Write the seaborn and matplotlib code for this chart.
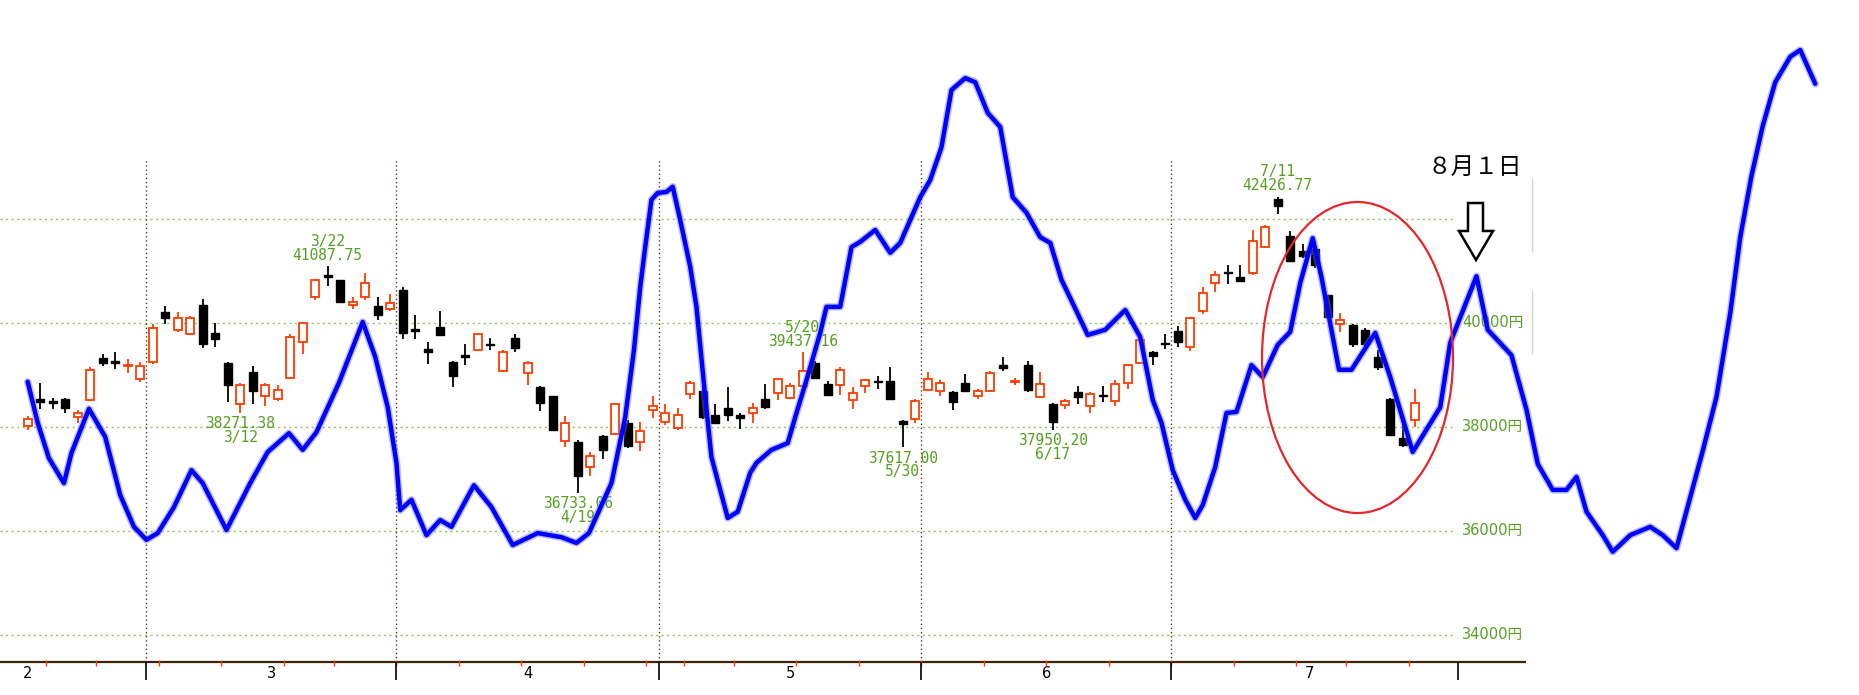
import numpy as np
import pandas as pd
import matplotlib
matplotlib.use('Agg')
import matplotlib.pyplot as plt
from matplotlib.patches import Ellipse, Polygon
import seaborn as sns

# ---------------- data ----------------
feb_days = [15, 16, 19, 20, 21, 22, 26, 27, 28, 29]
mar_days = [1, 4, 5, 6, 7, 8, 11, 12, 13, 14, 15, 18, 19, 21, 22, 25, 26, 27, 28, 29]
apr_days = [1, 2, 3, 4, 5, 8, 9, 10, 11, 12, 15, 16, 17, 18, 19, 22, 23, 24, 25, 26, 30]
may_days = [1, 2, 7, 8, 9, 10, 13, 14, 15, 16, 17, 20, 21, 22, 23, 24, 27, 28, 29, 30, 31]
jun_days = [3, 4, 5, 6, 7, 10, 11, 12, 13, 14, 17, 18, 19, 20, 21, 24, 25, 26, 27, 28]
jul_days = [1, 2, 3, 4, 5, 8, 9, 10, 11, 12, 16, 17, 18, 19, 22, 23, 24, 25, 26, 29]

opens = [38010, 38530, 38480, 38530, 38190, 38510, 39330, 39270, 39170, 38930,
         39250, 40210, 39860, 39790, 40340, 39810, 39230, 38450, 39060, 38590,
         38540, 38950, 39630, 40500, 40930, 40820, 40340, 40500, 40320, 40260,
         40640, 39890, 39500, 39920, 39250, 39380, 39490, 39590, 39080, 39720,
         39040, 38770, 38590, 37730, 37720, 37240, 37820, 37870, 38080, 37710, 38320,
         38100, 37990, 38630, 38700, 38240, 38370, 38240, 38270, 38540, 38650,
         38550, 38790, 39230, 38830, 38810, 38520, 38780, 38870, 38890, 38120, 38160,
         38720, 38700, 38680, 38850, 38600, 38700, 39190, 38870, 39190, 38570,
         38450, 38420, 38680, 38400, 38620, 38500, 38850, 39240, 39450, 39610,
         39850, 39540, 40240, 40770, 40980, 40890, 40960, 41460, 42390, 41680,
         41380, 41420, 40540, 39980, 39960, 39860, 39340, 38530, 37780, 38140]
highs = [38210, 38850, 38560, 38560, 38330, 39160, 39400, 39440, 39300, 39250,
         39990, 40320, 40220, 40130, 40470, 40000, 39250, 38850, 39170, 38850,
         38800, 39780, 40010, 40850, 41087.75, 40830, 40500, 40970, 40500, 40550,
         40700, 40150, 39640, 40240, 39270, 39600, 39800, 39720, 39490, 39780,
         39260, 38780, 38600, 38220, 37750, 37520, 37840, 38460, 38130, 38100, 38590,
         38440, 38370, 38890, 38760, 38440, 38760, 38270, 38460, 38830, 38950,
         38840, 39437.16, 39260, 38890, 39150, 38760, 38920, 38980, 39150, 38130, 38530,
         39050, 38900, 38700, 39020, 38740, 39080, 39340, 38950, 39260, 39050,
         38470, 38530, 38790, 38680, 38790, 38900, 39210, 39790, 39460, 39790,
         39940, 40120, 40700, 40990, 41120, 41120, 41780, 41890, 42426.77, 41760,
         41520, 41570, 40540, 40200, 39990, 39900, 39480, 38550, 38100, 38740]
lows = [37940, 38350, 38350, 38260, 38080, 38500, 39170, 39120, 39040, 38870,
        39220, 39990, 39830, 39760, 39510, 39540, 38480, 38271.38, 38440, 38400,
        38500, 38930, 39410, 40440, 40710, 40400, 40260, 40440, 40050, 40240,
        39700, 39700, 39220, 39760, 38770, 39190, 39470, 39490, 39060, 39440,
        38800, 38310, 37930, 37620, 36733.06, 37050, 37390, 37840, 37600, 37540, 38180,
        38030, 37950, 38530, 38160, 38050, 38120, 37970, 38080, 38340, 38520,
        38530, 38760, 38930, 38590, 38610, 38350, 38660, 38740, 38520, 37617.00, 38080,
        38710, 38590, 38320, 38680, 38530, 38680, 39080, 38810, 38680, 38550,
        37950.20, 38340, 38450, 38260, 38480, 38400, 38740, 39230, 39190, 39500,
        39540, 39460, 40170, 40600, 40750, 40790, 40930, 41440, 42100, 41190,
        41250, 41050, 40090, 39830, 39530, 39560, 39090, 37820, 37610, 38000]
closes = [38150, 38490, 38470, 38360, 38270, 39100, 39230, 39240, 39200, 39170,
          39910, 40100, 40090, 40090, 39600, 39690, 38800, 38800, 38690, 38810,
          38710, 39740, 40000, 40820, 40890, 40410, 40400, 40760, 40150, 40380,
          39800, 39840, 39450, 39770, 38980, 39350, 39780, 39580, 39440, 39520,
          39230, 38470, 37950, 38080, 37060, 37440, 37550, 38450, 37630, 37930, 38400,
          38270, 38230, 38840, 38200, 38070, 38230, 38180, 38370, 38390, 38920,
          38790, 39070, 38950, 38620, 39100, 38650, 38900, 38860, 38530, 38060, 38500,
          38930, 38840, 38490, 38700, 38690, 39040, 39140, 38890, 38720, 38820,
          38100, 38500, 38580, 38640, 38600, 38820, 39190, 39680, 39370, 39590,
          39630, 40090, 40570, 40920, 40960, 40800, 41580, 41850, 42240, 41200,
          41290, 41120, 40120, 40060, 39600, 39600, 39160, 37840, 37650, 38460]

# cycle line (x in trading-day positions, y in yen)
cycle_x = [0.0, 0.8, 1.7, 2.9, 3.5, 4.9, 6.2, 7.4, 8.5, 9.5,
           10.4, 11.7, 13.1, 14.0, 15.9, 17.8, 19.2, 20.9, 22.0, 23.1,
           24.9, 26.8, 27.8, 28.8, 29.5, 29.8, 30.7, 31.9, 33.0, 33.9,
           35.7, 37.1, 38.8, 40.8, 42.7, 43.9, 44.9, 46.7, 47.8, 48.5,
           49.0, 49.4, 49.9, 50.4, 51.1, 51.6, 52.2, 53.0, 53.5, 54.2,
           54.7, 55.4, 56.0, 56.8, 57.8, 58.3, 59.5, 60.8, 61.5, 62.3,
           63.4, 63.9, 65.0, 65.9, 66.6, 67.8, 69.0, 69.8, 71.4, 72.2,
           73.1, 73.9, 75.0, 75.8, 76.8, 77.8, 78.8, 79.9, 81.0, 81.8,
           82.7, 83.6, 84.8, 86.2, 87.8, 89.0, 90.0, 90.7, 91.6, 92.6,
           93.4, 94.0, 95.0, 95.9, 96.7, 97.9, 98.8, 100.0, 101.0, 101.8,
           102.8, 103.5, 104.9, 105.9, 107.8, 109.0, 110.8, 113.0, 113.8, 115.9,
           116.8, 118.7, 119.9, 120.8, 122.0, 123.1, 123.9, 124.7, 126.0, 126.8,
           128.2, 129.8, 130.8, 131.9, 133.0, 134.0, 135.1, 136.2, 137.0, 137.9,
           138.8, 139.8, 141.0, 141.8, 143.0]
cycle_y = [38870, 38080, 37400, 36920, 37500, 38350, 37810, 36690, 36080, 35830,
           35960, 36460, 37170, 36920, 36020, 36920, 37520, 37880, 37560, 37900,
           38850, 40020, 39350, 38380, 37310, 36400, 36600, 35920, 36210, 36080,
           36880, 36460, 35730, 35960, 35880, 35770, 35960, 36920, 38190, 39480,
           40690, 41460, 42370, 42500, 42520, 42620, 41980, 41080, 40310, 38580,
           37420, 36790, 36250, 36370, 37120, 37310, 37560, 37690, 38270, 38900,
           39810, 40310, 40310, 41460, 41560, 41790, 41350, 41540, 42420, 42750,
           43380, 44480, 44710, 44630, 44040, 43770, 42420, 42120, 41650, 41540,
           40830, 40380, 39770, 39870, 40250, 39730, 38520, 38080, 37170, 36600,
           36250, 36500, 37230, 38270, 38290, 39190, 38960, 39580, 39830, 40770,
           41630, 40880, 39100, 39100, 39810, 38960, 37520, 38380, 39620, 40900,
           39870, 39380, 38330, 37290, 36790, 36790, 37040, 36370, 35920, 35600,
           35920, 36080, 35920, 35670, 36650, 37540, 38580, 40190, 41650, 42830,
           43790, 44630, 45120, 45250, 44600]

grid_levels = [34000, 36000, 38000, 40000, 42000]
label_levels = [34000, 36000, 38000, 40000]
month_numbers = [2, 3, 4, 5, 6, 7]
month_trading_days = [19, 20, 21, 21, 20, 22]
high_marks = ['2024-03-22', '2024-05-20', '2024-07-11']
low_marks = ['2024-03-12', '2024-04-19', '2024-05-30', '2024-06-17']
note_text = '８月１日'

# ---------------- layout ----------------
W, H = 1859, 695
XL, XR = -2.216, 146.5
YTOP, YBOT = 46211, 32846


def X(px):
    return XL + px / W * (XR - XL)


def Y(py):
    return YTOP - py / H * (YTOP - YBOT)


sns.set_theme(style='white')
plt.rcParams['font.family'] = ['DejaVu Sans', 'Noto Sans CJK JP']

fig = plt.figure(figsize=(W / 100, H / 100), dpi=100, facecolor='white')
ax = fig.add_axes([0, 0, 1, 1])
ax.set_xlim(XL, XR)
ax.set_ylim(YBOT, YTOP)
ax.axis('off')

month_lists = [(2, feb_days), (3, mar_days), (4, apr_days), (5, may_days), (6, jun_days), (7, jul_days)]
dates = pd.to_datetime([f'2024-{m:02d}-{d:02d}' for m, ds in month_lists for d in ds])
df = pd.DataFrame({'date': dates, 'pos': np.arange(len(dates)), 'open': opens,
                   'high': highs, 'low': lows, 'close': closes})

GREEN_TXT = '#55a022'
GRID_GREEN = '#8ec65c'
RED = '#ff3c00'

# horizontal dotted grid
for lvl in grid_levels:
    ax.plot([XL, X(1455)], [lvl, lvl], color=GRID_GREEN, lw=1.0,
            ls=(0, (1.5, 2.5)), zorder=1)
for lvl in label_levels:
    ax.text(X(1462), lvl, f'{lvl}円', color=GREEN_TXT, fontsize=10.5,
            va='center', ha='left', zorder=2)

# month boundaries
months = df['date'].dt.month.values
pos = df['pos'].values
bounds = pos[1:][np.diff(months) != 0] - 0.5
ax.vlines(bounds, Y(662), Y(158), colors='#5a3c14', lw=1.0,
          linestyles=[(0, (1, 2))], zorder=1)

# axis line and ticks
weeks = df['date'].dt.isocalendar().week.values.astype(int)
wk_bounds = pos[1:][np.diff(weeks) != 0] - 0.5
ax.plot([XL, X(1526)], [Y(662), Y(662)], color='#3a2508', lw=1.6,
        solid_capstyle='butt', zorder=3)
ax.vlines(wk_bounds, Y(666), Y(660), colors=RED, lw=1.0, zorder=4)
AUG_TICK = 114.4
ax.vlines(list(bounds) + [AUG_TICK], Y(680), Y(662), colors='black', lw=1.2, zorder=4)

# month labels
left = bounds[0] - month_trading_days[0]
edges = [left] + list(bounds)
for m, e, n in zip(month_numbers, edges, month_trading_days):
    ax.text(e + n / 2, Y(673), str(m), ha='center', va='center',
            fontsize=10.5, color='black')

# candles
up = df['close'].values >= df['open'].values
wick_cols = np.where(up, RED, 'black')
ax.vlines(df['pos'], df['low'], df['high'], colors=wick_cols, lw=1.3, zorder=2)
body_bottom = np.minimum(df['open'], df['close'])
body_h = np.maximum(np.abs(df['close'] - df['open']), 22)
ax.bar(df['pos'][up], body_h[up], bottom=body_bottom[up], width=0.64,
       facecolor='white', edgecolor=RED, linewidth=1.3, zorder=3)
ax.bar(df['pos'][~up], body_h[~up], bottom=body_bottom[~up], width=0.64,
       facecolor='black', edgecolor='black', linewidth=1.0, zorder=3)

# extreme labels
mono = 'DejaVu Sans Mono'
LBL = 10.5
for d in high_marks:
    r = df[df['date'] == pd.Timestamp(d)].iloc[0]
    ax.annotate(f"{r['high']:.2f}", (r['pos'], r['high']), xytext=(0, 8),
                textcoords='offset points', ha='center', va='center',
                color=GREEN_TXT, fontsize=LBL, family=mono, zorder=4)
    ax.annotate(f"{r['date'].month}/{r['date'].day}", (r['pos'], r['high']),
                xytext=(0, 18), textcoords='offset points', ha='center',
                va='center', color=GREEN_TXT, fontsize=LBL, family=mono, zorder=4)
for d in low_marks:
    r = df[df['date'] == pd.Timestamp(d)].iloc[0]
    ax.annotate(f"{r['low']:.2f}", (r['pos'], r['low']), xytext=(0, -8),
                textcoords='offset points', ha='center', va='center',
                color=GREEN_TXT, fontsize=LBL, family=mono, zorder=4)
    ax.annotate(f"{r['date'].month}/{r['date'].day}", (r['pos'], r['low']),
                xytext=(0, -18), textcoords='offset points', ha='center',
                va='center', color=GREEN_TXT, fontsize=LBL, family=mono, zorder=4)

# faint frame edge of the original chart
ax.vlines([X(1532), X(1532)], [Y(252), Y(354)], [Y(178), Y(290)],
          colors='#d8d4c8', lw=1.0, zorder=1)

# cycle line
ax.plot(cycle_x, cycle_y, color='#7070ff', alpha=0.45, lw=5.4,
        solid_joinstyle='round', zorder=5)
sns.lineplot(x=cycle_x, y=cycle_y, sort=False, estimator=None, color='#0000ff',
             lw=3.2, ax=ax, legend=False, zorder=6)

# red ellipse
ax.add_patch(Ellipse((X(1357.5), Y(357.5)), width=191 / W * (XR - XL),
                     height=311 / H * (YTOP - YBOT), fill=False,
                     edgecolor='#e5262d', lw=1.6, zorder=7))

# date note and hollow arrow
ax.text(X(1475), Y(167), note_text, ha='center', va='center', fontsize=17,
        family=['Noto Sans CJK JP'], color='black', zorder=8)
arrow_px = [(1468, 203), (1483, 203), (1483, 231), (1493, 231), (1476, 260),
            (1459, 231), (1468, 231)]
ax.add_patch(Polygon([(X(a), Y(b)) for a, b in arrow_px], closed=True, fill=False,
                     edgecolor='black', lw=1.8, joinstyle='miter', zorder=8))

fig.savefig('out.png', dpi=100, facecolor='white')
